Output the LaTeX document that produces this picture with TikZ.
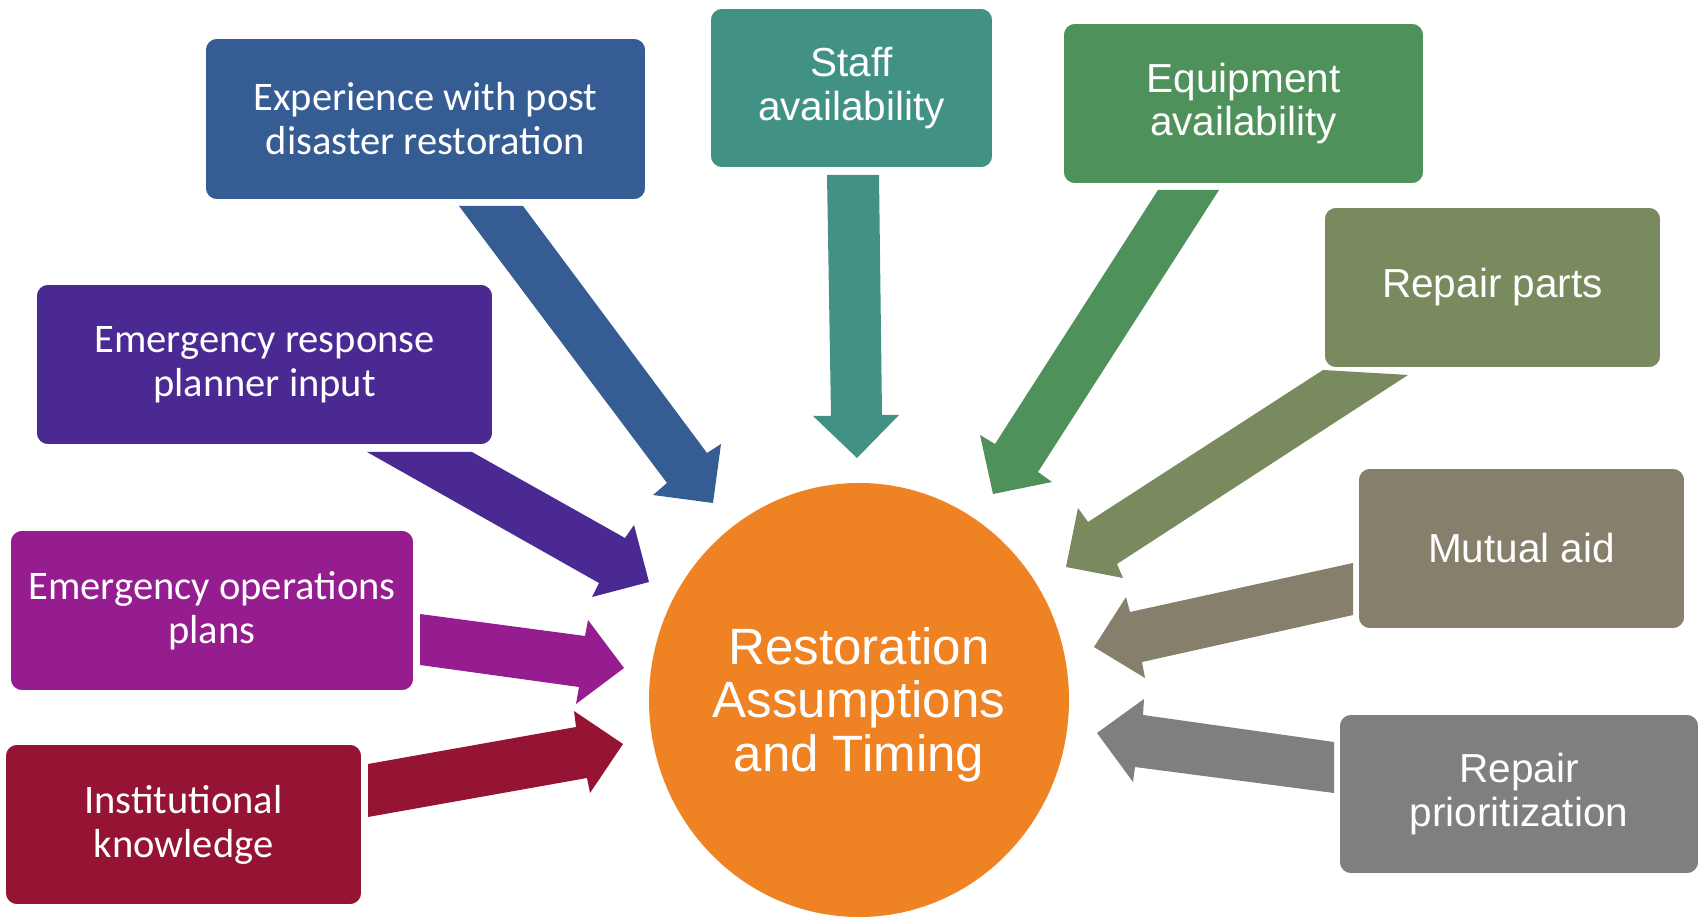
\documentclass[tikz,border=0pt]{standalone}
\usepackage{fontspec}
\usetikzlibrary{shapes.geometric}
\newfontfamily\arialf{Liberation Sans}
\newfontfamily\calibf{Carlito}
\definecolor{cBlue}{RGB}{53,92,147}
\definecolor{cTeal}{RGB}{65,146,133}
\definecolor{cGreen}{RGB}{79,145,91}
\definecolor{cOlive}{RGB}{121,138,94}
\definecolor{cPurple}{RGB}{74,41,147}
\definecolor{cMagenta}{RGB}{149,29,143}
\definecolor{cCrimson}{RGB}{150,20,51}
\definecolor{cTaupe}{RGB}{133,127,107}
\definecolor{cGray}{RGB}{127,127,127}
\definecolor{cOrange}{RGB}{239,130,34}
\tikzset{
  box/.style={rectangle, rounded corners=9pt, draw=white, line width=1.2pt, text=white, align=center, inner sep=0pt},
  calfont/.style={font=\calibf\fontsize{30.4}{33}\selectfont},
  arfont/.style={font=\arialf\fontsize{30.4}{32.5}\selectfont},
  core/.style={ellipse, fill=cOrange, inner sep=0pt, minimum width=315pt, minimum height=325.5pt},
  corelabel/.style={text=white, align=center, inner sep=0pt, font=\arialf\fontsize{38.3}{40}\selectfont}
}
\begin{document}
\begin{tikzpicture}[x=0.75pt,y=-0.75pt]
\useasboundingbox (0,0) rectangle (1703,919);
\fill[white] (0,0) rectangle (1703,919);
% central ellipse
\node[core] (core) at (859,700) {};
\node[corelabel, yshift=-3.5pt] (coretext) at (core.center) {Restoration\\Assumptions\\and Timing};
% arrows
\fill[cBlue] (459,206) -- (523,206) -- (707,453) -- (721,444) -- (713,503) -- (653,495) -- (667,483) -- cycle;
\fill[cPurple] (367,452) -- (472,452) -- (625,538) -- (634,525) -- (649,582) -- (592,597) -- (599,583) -- cycle;
\fill[cMagenta] (420,614) -- (585,636) -- (588,620) -- (624,668) -- (576,704) -- (579,687) -- (420,665) -- cycle;
\fill[cCrimson] (368,764) -- (576,727) -- (574,711) -- (623,744) -- (590,793) -- (587,778) -- (368,817) -- cycle;
\fill[cTeal] (827,175) -- (879,175) -- (882,415) -- (899,415) -- (857,458) -- (813,416) -- (831,416) -- cycle;
\fill[cGreen] (1158,190) -- (1219,190) -- (1038,472) -- (1052,482) -- (993,494) -- (980,435) -- (995,444) -- cycle;
\fill[cOlive] (1323,370) -- (1408,375) -- (1117,564) -- (1123,578) -- (1066,567) -- (1078,508) -- (1088,522) -- cycle;
\fill[cTaupe] (1353,563) -- (1353,615) -- (1142,662) -- (1145,678) -- (1094,647) -- (1126,597) -- (1130,612) -- cycle;
\fill[cGray] (1334,742) -- (1334,793) -- (1135,767) -- (1133,782) -- (1097,733) -- (1144,699) -- (1143,715) -- cycle;
% boxes
\node[box, calfont, fill=cBlue, minimum width=330.75pt, minimum height=121.5pt] (exp) at (425.5,119) {Experience with post\\disaster restoration};
\node[box, arfont, fill=cTeal, minimum width=212.25pt, minimum height=120pt] (staff) at (851.5,88) {Staff\\availability};
\node[box, arfont, fill=cGreen, minimum width=270.75pt, minimum height=120.75pt] (equip) at (1243.5,103.5) {Equipment\\availability};
\node[box, arfont, fill=cOlive, minimum width=252.75pt, minimum height=120.75pt] (parts) at (1492.5,287.5) {Repair parts};
\node[box, calfont, fill=cPurple, minimum width=342.75pt, minimum height=120.75pt] (resp) at (264.5,364.5) {Emergency response\\planner input};
\node[box, calfont, fill=cMagenta, minimum width=303pt, minimum height=120.75pt] (ops) at (212,610.5) {Emergency operations\\plans};
\node[box, calfont, fill=cCrimson, minimum width=267.75pt, minimum height=120.75pt] (inst) at (183.5,824.5) {Institutional\\knowledge};
\node[box, arfont, fill=cTaupe, minimum width=245.25pt, minimum height=120.75pt] (mutual) at (1521.5,548.5) {Mutual aid};
\node[box, arfont, fill=cGray, minimum width=270pt, minimum height=120pt] (prio) at (1519,794) {Repair\\prioritization};
\end{tikzpicture}
\end{document}
